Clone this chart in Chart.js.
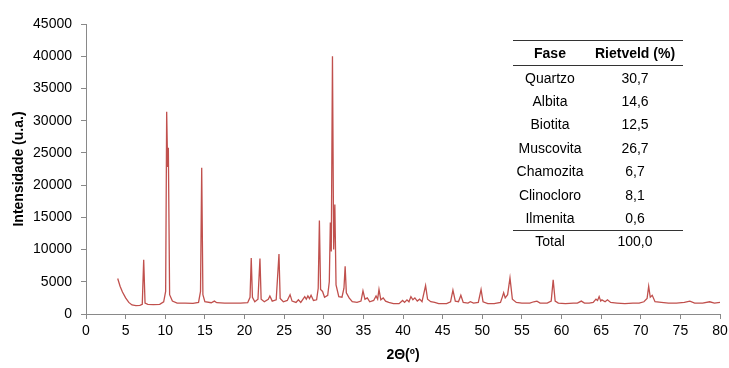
<!DOCTYPE html>
<html>
<head>
<meta charset="utf-8">
<script src="https://cdn.jsdelivr.net/npm/chart.js@4"></script>
<style>
  html, body { margin: 0; padding: 0; background: #fff; }
  #wrap { position: relative; width: 729px; height: 368px; }
  #tabela {
    position: absolute; left: 513px; top: 40px; width: 170px;
    border-collapse: collapse;
    font-family: "Liberation Sans", Arial, sans-serif; font-size: 14px; color: #000;
  }
  #tabela td, #tabela th { padding: 0; text-align: center; white-space: nowrap; }
  #tabela th { font-weight: bold; height: 24px; border-top: 1.5px solid #333; border-bottom: 1.5px solid #333; }
  #tabela td { height: 23.4px; }
  #tabela tr.total td { height: 20px; border-top: 1.5px solid #333; }
  #tabela .c1 { width: 74px; }
</style>
</head>
<body>
<div id="wrap">
  <canvas id="graficoDRX" width="729" height="368"></canvas>
  <table id="tabela"></table>
</div>
<script>
// Difratograma (2θ em graus, intensidade em u.a.)
const doisTheta = [
  4.0, 4.3, 4.6, 5.0, 5.4, 5.8, 6.3, 6.8, 7.1, 7.28, 7.45, 7.8, 8.5, 9.3, 9.8,
  10.05, 10.18, 10.3, 10.39, 10.55, 10.9, 11.5, 12.5, 13.5, 14.2, 14.45, 14.6, 14.75, 15.0,
  15.8, 16.2, 16.5, 17.5, 18.5, 19.5, 20.4, 20.7, 20.85, 21.0, 21.3, 21.7, 21.95, 22.1,
  22.5, 23.0, 23.2, 23.5, 24.0, 24.35, 24.5, 24.9, 25.4, 25.75, 26.0, 26.5, 26.8, 27.1,
  27.6, 27.8, 28.0, 28.2, 28.4, 28.7, 29.1, 29.3, 29.45, 29.6, 29.85, 30.1, 30.5, 30.7,
  30.83, 30.95, 31.1, 31.25, 31.4, 31.55, 31.9, 32.3, 32.55, 32.7, 32.85, 33.2, 33.6, 34.2,
  34.7, 34.95, 35.2, 35.5, 35.8, 36.3, 36.6, 36.8, 36.97, 37.2, 37.5, 37.8, 38.2, 38.8,
  39.5, 39.95, 40.2, 40.5, 40.75, 41.0, 41.25, 41.5, 41.8, 42.1, 42.4, 42.85, 43.1, 43.5,
  44.0, 44.5, 45.5, 46.0, 46.3, 46.6, 47.0, 47.3, 47.6, 48.2, 48.5, 48.9, 49.5, 49.85,
  50.1, 50.7, 51.5, 52.3, 52.55, 52.7, 52.9, 53.2, 53.5, 53.8, 54.3, 55.0, 56.0, 56.5,
  56.9, 57.3, 58.2, 58.7, 58.95, 59.2, 59.6, 60.5, 61.5, 62.0, 62.5, 62.9, 63.5, 64.0,
  64.35, 64.55, 64.75, 64.95, 65.1, 65.5, 65.8, 66.2, 67.0, 68.0, 69.0, 69.8, 70.4, 70.8,
  71.0, 71.2, 71.45, 71.8, 72.6, 73.5, 74.5, 75.5, 76.2, 76.8, 77.8, 78.7, 79.3, 80.0
];
const intensidade = [
  5500, 4300, 3400, 2500, 1800, 1400, 1300, 1350, 1500, 8400, 1700, 1500, 1450, 1500, 1900,
  3500, 31400, 22800, 25800, 3000, 2000, 1700, 1700, 1650, 1800, 3500, 22700, 3000, 1900,
  1750, 2000, 1750, 1700, 1700, 1700, 1750, 2600, 8700, 2600, 1900, 2300, 8600, 2300,
  1900, 2300, 2800, 2000, 2200, 9300, 2400, 1900, 2100, 3000, 2000, 1800, 2200, 1800,
  2700, 2300, 2800, 2400, 2900, 2100, 2200, 4000, 14500, 3800, 3500, 2600, 2900, 5000,
  14200, 9700, 40000, 10000, 17000, 4500, 2700, 2600, 4000, 7400, 3300, 2500, 1900, 1800,
  2000, 3600, 2300, 2500, 1900, 2100, 2800, 2300, 3800, 2200, 2500, 2000, 1800, 1600,
  1600, 2100, 1800, 2200, 1900, 2700, 2200, 2500, 2000, 2300, 1900, 4400, 2300, 1900,
  1800, 1600, 1600, 1900, 3700, 2000, 1900, 2900, 1800, 1700, 1900, 1700, 1800, 3800,
  1900, 1600, 1600, 1800, 2700, 3300, 2500, 3000, 5600, 2300, 1800, 1700, 1700, 1900,
  2000, 1700, 1700, 2000, 5300, 2000, 1700, 1600, 1700, 1700, 2000, 1700, 1700, 1800,
  2300, 2100, 2700, 2000, 2200, 1900, 2200, 1800, 1700, 1600, 1700, 1700, 1900, 2400,
  4300, 2600, 2900, 1900, 1800, 1700, 1700, 1800, 2000, 1700, 1700, 1900, 1700, 1800
];

// Tabela de quantificação
const fases = ["Quartzo", "Albita", "Biotita", "Muscovita", "Chamozita", "Clinocloro", "Ilmenita"];
const rietveld = ["30,7", "14,6", "12,5", "26,7", "6,7", "8,1", "0,6"];
const total = "100,0";

const fonte = "'Liberation Sans', Arial, sans-serif";
const corEixo = "#898989";

let html = '<tr><th class="c1">Fase</th><th>Rietveld (%)</th></tr>';
fases.forEach((f, i) => {
    html += '<tr><td class="c1">' + f + '</td><td>' + rietveld[i] + '</td></tr>';
});
html += '<tr class="total"><td class="c1">Total</td><td>' + total + '</td></tr>';
document.getElementById("tabela").innerHTML = html;

const pontos = doisTheta.map((x, i) => ({ x: x, y: intensidade[i] }));

const ctx = document.getElementById("graficoDRX").getContext("2d");
new Chart(ctx, {
    type: "line",
    data: {
        datasets: [{
            data: pontos,
            borderColor: "#C0504D",
            borderWidth: 1.3,
            pointRadius: 0,
            tension: 0,
            fill: false
        }]
    },
    options: {
        responsive: false,
        animation: false,
        layout: { padding: { top: 24, right: 9, left: 0, bottom: 0 } },
        plugins: {
            legend: { display: false },
            tooltip: { enabled: false }
        },
        scales: {
            x: {
                type: "linear",
                min: 0,
                max: 80,
                ticks: { stepSize: 5, color: "#000", font: { family: fonte, size: 14 }, maxRotation: 0, padding: 4, callback: v => String(v) },
                grid: { drawOnChartArea: false, drawTicks: true, tickLength: 5, color: corEixo },
                border: { color: corEixo },
                title: { display: true, text: "2Θ(º)", color: "#000", font: { family: fonte, size: 14, weight: "bold" }, padding: { top: 2 } },
                afterFit: s => { s.height = 54; s.paddingRight = 0; s.paddingLeft = 0; }
            },
            y: {
                min: 0,
                max: 45000,
                ticks: { stepSize: 5000, color: "#000", font: { family: fonte, size: 14 }, padding: 9, callback: v => String(v) },
                grid: { drawOnChartArea: false, drawTicks: true, tickLength: 5, color: corEixo },
                border: { color: corEixo },
                title: { display: true, text: "Intensidade (u.a.)", color: "#000", font: { family: fonte, size: 14, weight: "bold" }, padding: { top: 11, bottom: 0 } },
                afterFit: s => { s.width = 86; }
            }
        }
    }
});
</script>
</body>
</html>
